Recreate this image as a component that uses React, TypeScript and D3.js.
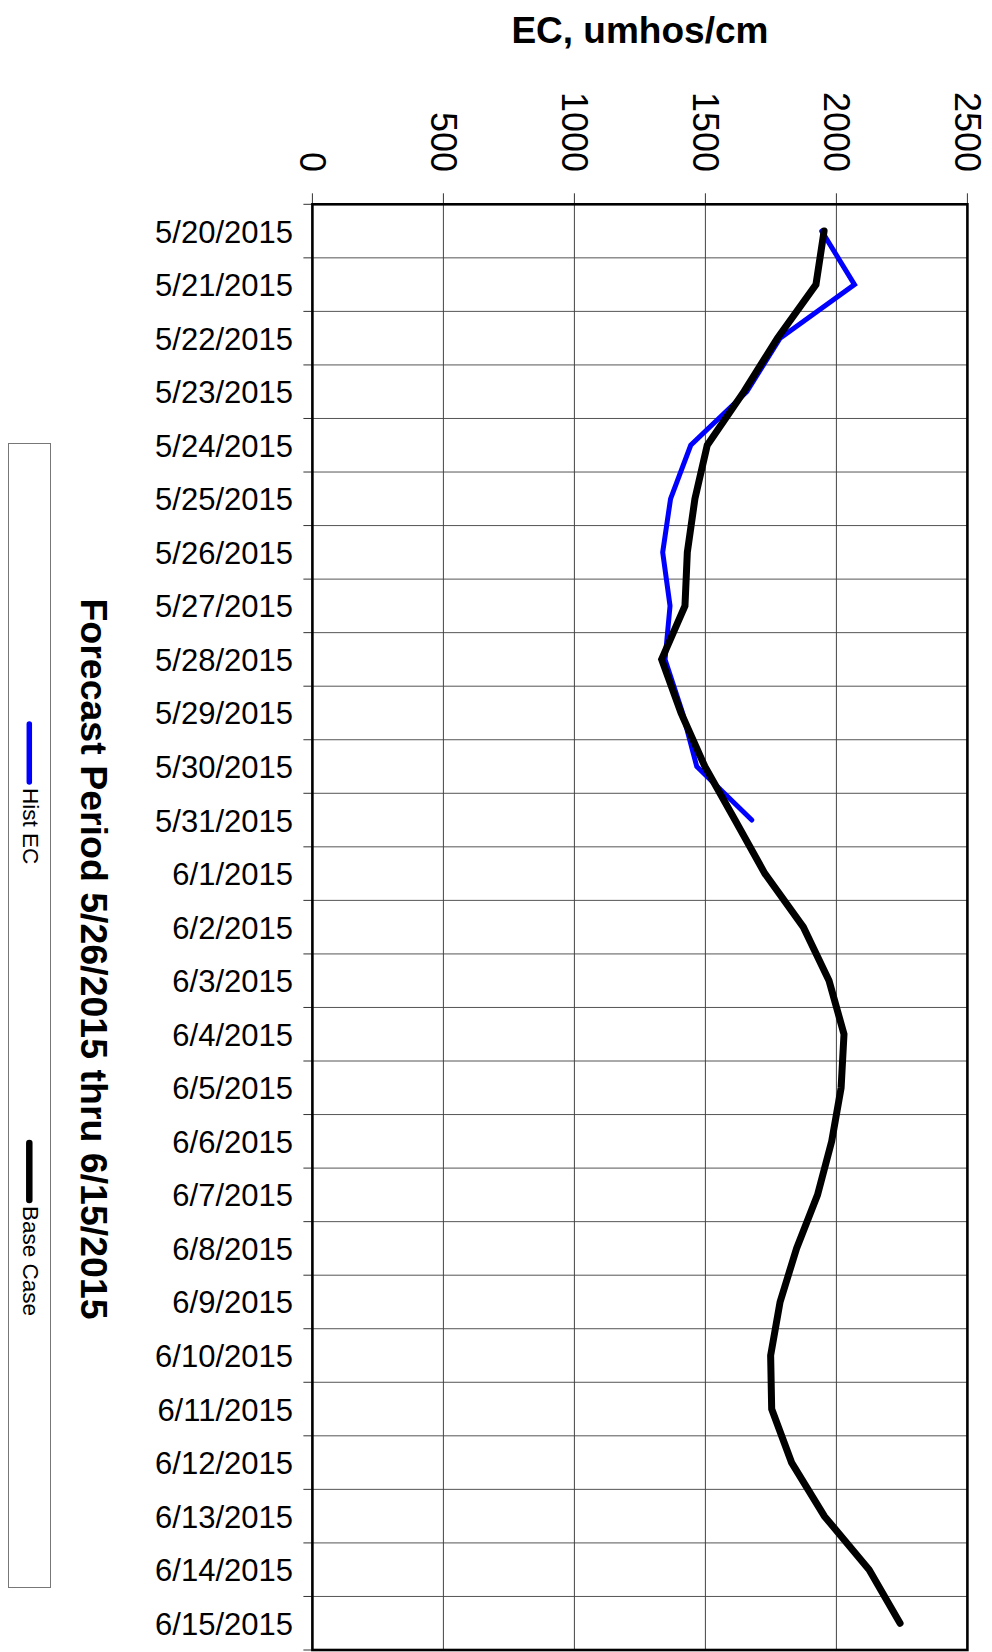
import React, { useRef, useEffect } from 'react'
import * as d3 from "d3";

// dates down the left side (one band per day)
const dates: string[] = [
  "5/20/2015", "5/21/2015", "5/22/2015", "5/23/2015", "5/24/2015", "5/25/2015",
  "5/26/2015", "5/27/2015", "5/28/2015", "5/29/2015", "5/30/2015", "5/31/2015",
  "6/1/2015", "6/2/2015", "6/3/2015", "6/4/2015", "6/5/2015", "6/6/2015",
  "6/7/2015", "6/8/2015", "6/9/2015", "6/10/2015", "6/11/2015", "6/12/2015",
  "6/13/2015", "6/14/2015", "6/15/2015",
]

// Hist EC only runs to 5/31
const histEC: number[] = [
  1944, 2069, 1785, 1658, 1444, 1367, 1337, 1365, 1346, 1413, 1467, 1677,
]

const baseCase: number[] = [
  1953, 1922, 1775, 1647, 1507, 1460, 1431, 1422, 1333, 1407, 1498, 1613,
  1727, 1874, 1972, 2029, 2018, 1982, 1928, 1848, 1785, 1749, 1753, 1829,
  1954, 2125, 2243,
]

const ecTicks: number[] = [0, 500, 1000, 1500, 2000, 2500]

const axisTitle = "EC, umhos/cm"
const chartTitle = "Forecast Period 5/26/2015 thru 6/15/2015"
const legendNames: string[] = ["Hist EC", "Base Case"]

interface point {
  date: string;
  value: number;
}

const FONT = "Arial, 'Liberation Sans', Helvetica, sans-serif"

const EcChart: React.FC = () => {
  const ref = useRef<SVGSVGElement | null>(null);

  const dimensions = {
    width: 992,
    height: 1652,
    left: 312.4,
    right: 967.4,
    top: 204.3,
    bottom: 1650,
  }

  useEffect(() => {
    if (!ref.current) return
    const svg = d3.select(ref.current)
    svg.selectAll("*").remove()

    const xScale = d3.scaleLinear()
      .domain([0, 2500])
      .range([dimensions.left, dimensions.right])

    const yScale = d3.scaleBand<string>()
      .domain(dates)
      .range([dimensions.top, dimensions.bottom])
      .padding(0)

    const bw = yScale.bandwidth()
    const boundaries = dates.map(d => yScale(d) as number).concat([dimensions.bottom])

    // grid
    const grid = svg.append("g")
    grid.selectAll("line.h")
      .data(boundaries.slice(1, -1))
      .join("line")
      .attr("x1", dimensions.left)
      .attr("x2", dimensions.right)
      .attr("y1", d => d)
      .attr("y2", d => d)
      .attr("stroke", "#555")
      .attr("stroke-width", 1)

    grid.selectAll("line.v")
      .data(ecTicks.slice(1, -1))
      .join("line")
      .attr("x1", d => xScale(d))
      .attr("x2", d => xScale(d))
      .attr("y1", dimensions.top)
      .attr("y2", dimensions.bottom)
      .attr("stroke", "#444")
      .attr("stroke-width", 1)

    // ticks
    svg.append("g").selectAll("line")
      .data(boundaries)
      .join("line")
      .attr("x1", dimensions.left - 9)
      .attr("x2", dimensions.left)
      .attr("y1", d => d)
      .attr("y2", d => d)
      .attr("stroke", "#333")
      .attr("stroke-width", 1)

    svg.append("g").selectAll("line")
      .data(ecTicks)
      .join("line")
      .attr("x1", d => xScale(d))
      .attr("x2", d => xScale(d))
      .attr("y1", dimensions.top - 11)
      .attr("y2", dimensions.top)
      .attr("stroke", "#333")
      .attr("stroke-width", 1)

    // plot border
    svg.append("rect")
      .attr("x", dimensions.left)
      .attr("y", dimensions.top)
      .attr("width", dimensions.right - dimensions.left)
      .attr("height", dimensions.bottom - dimensions.top)
      .attr("fill", "none")
      .attr("stroke", "#000")
      .attr("stroke-width", 2.6)

    // EC tick labels, rotated
    svg.append("g").selectAll("text")
      .data(ecTicks)
      .join("text")
      .attr("transform", d => `translate(${xScale(d)},172) rotate(90)`)
      .attr("text-anchor", "end")
      .attr("dy", "0.35em")
      .attr("font-family", FONT)
      .attr("font-size", 36)
      .attr("fill", "#000")
      .text(d => d)

    // date labels
    svg.append("g").selectAll("text")
      .data(dates)
      .join("text")
      .attr("x", 293)
      .attr("y", d => (yScale(d) as number) + bw / 2 + 11.5)
      .attr("text-anchor", "end")
      .attr("font-family", FONT)
      .attr("font-size", 31)
      .attr("fill", "#000")
      .text(d => d)

    // titles
    svg.append("text")
      .attr("x", (dimensions.left + dimensions.right) / 2)
      .attr("y", 42.7)
      .attr("text-anchor", "middle")
      .attr("font-family", FONT)
      .attr("font-size", 37)
      .attr("font-weight", "bold")
      .text(axisTitle)

    svg.append("text")
      .attr("transform", "translate(81,959) rotate(90)")
      .attr("text-anchor", "middle")
      .attr("font-family", FONT)
      .attr("font-size", 37.5)
      .attr("font-weight", "bold")
      .text(chartTitle)

    // series
    const lineGenerator = d3.line<point>()
      .x(d => xScale(d.value))
      .y(d => (yScale(d.date) as number) + bw / 2)

    const histData: point[] = histEC.map((v, i) => ({ date: dates[i], value: v }))
    const baseData: point[] = baseCase.map((v, i) => ({ date: dates[i], value: v }))

    svg.append("path")
      .attr("d", lineGenerator(histData))
      .attr("fill", "none")
      .attr("stroke", "#0000ff")
      .attr("stroke-width", 5)
      .attr("stroke-linecap", "round")
      .attr("stroke-linejoin", "miter")

    svg.append("path")
      .attr("d", lineGenerator(baseData))
      .attr("fill", "none")
      .attr("stroke", "#000")
      .attr("stroke-width", 7)
      .attr("stroke-linecap", "round")
      .attr("stroke-linejoin", "miter")

    // legend
    svg.append("rect")
      .attr("x", 8.5)
      .attr("y", 443.5)
      .attr("width", 42)
      .attr("height", 1144)
      .attr("fill", "#fff")
      .attr("stroke", "#777")
      .attr("stroke-width", 1)

    const legend = [
      { name: legendNames[0], color: "#0000ff", width: 5.5, y0: 724, y1: 782 },
      { name: legendNames[1], color: "#000", width: 6.5, y0: 1143, y1: 1200 },
    ]
    const items = svg.append("g").selectAll("g")
      .data(legend)
      .join("g")
    items.append("line")
      .attr("x1", 29.3)
      .attr("x2", 29.3)
      .attr("y1", d => d.y0)
      .attr("y2", d => d.y1)
      .attr("stroke", d => d.color)
      .attr("stroke-width", d => d.width)
      .attr("stroke-linecap", "round")
    items.append("text")
      .attr("transform", d => `translate(22.7,${d.y1 + 6}) rotate(90)`)
      .attr("font-family", FONT)
      .attr("font-size", 22.5)
      .attr("fill", "#000")
      .text(d => d.name)
  }, [])

  return (
    <svg
      ref={ref}
      width={dimensions.width}
      height={dimensions.height}
      style={{ position: "absolute", left: 0, top: 0, background: "#fff" }}
    />
  )
}

export default function App() {
  return <EcChart />
}
